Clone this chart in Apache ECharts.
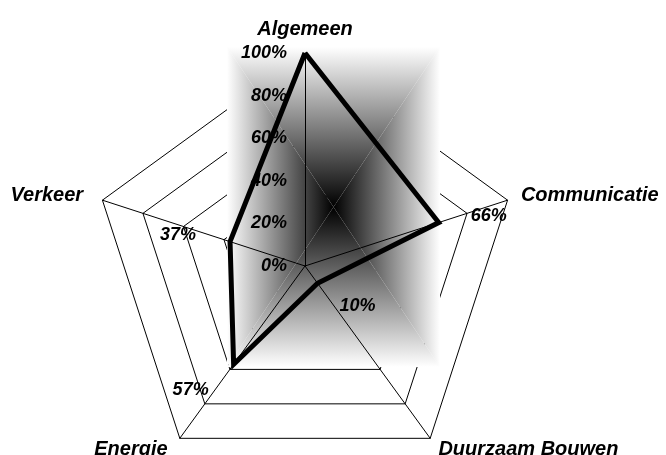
<!DOCTYPE html>
<html>
<head>
<meta charset="utf-8">
<script src="https://cdn.jsdelivr.net/npm/echarts@6/dist/echarts.min.js"></script>
<style>
  html, body { margin: 0; padding: 0; background: #fff; }
  #chart { width: 666px; height: 455px; }
</style>
</head>
<body>
<div id="chart"></div>
<script>
var categories = ['Algemeen', 'Communicatie', 'Duurzaam Bouwen', 'Energie', 'Verkeer'];
var values = [100, 66, 10, 57, 37];
var tickLabels = ['0%', '20%', '40%', '60%', '80%', '100%'];

// label offsets for the value labels (per axis, skip the top one: axis label covers it)
var labelOffsets = [null, [50, -7], [40, 23], [-43, 26], [-52, -7]];
// small nudges for the axis names
var namePadding = [0, [8, 0, 0, 0], 0, [0, 4, 0, 0], [8, 6, 0, 0]];

// echarts goes round counter-clockwise, the picture goes clockwise
var order = [0, 4, 3, 2, 1];
var radarValues = order.map(function (i) { return values[i]; });

var font = { fontFamily: 'Liberation Sans', fontWeight: 'bold', fontStyle: 'italic', color: '#000' };

var myChart = echarts.init(document.getElementById('chart'));

var cx = 305, cy = 266, r = 213;
// plot area fill box (rectangular "from center" gradient)
var L = 227, R = 440, T = 47, B = 367;
var mx = (L + R) / 2, my = (T + B) / 2;

function grad(x2, y2, dark0) {
  var a = dark0 ? '#000' : '#fff', b = dark0 ? '#fff' : '#000';
  return { type: 'linear', x: 0, y: 0, x2: x2, y2: y2, colorStops: [{ offset: 0, color: a }, { offset: 1, color: b }] };
}

var indicators0 = order.map(function (i) {
  var ind = { name: categories[i], min: 0, max: 100 };
  if (namePadding[i]) ind.nameTextStyle = { padding: namePadding[i] };
  return ind;
});
var indicators1 = order.map(function (i) {
  return { name: categories[i], min: 0, max: 100, axisLabel: { show: i === 0 } };
});

var labelSeries = [];
labelOffsets.forEach(function (off, k) {
  if (!off) return;
  labelSeries.push({
    type: 'radar',
    radarIndex: 1,
    z: 4,
    symbol: 'circle',
    symbolSize: 1,
    silent: true,
    itemStyle: { color: 'rgba(0,0,0,0)' },
    lineStyle: { width: 0, opacity: 0 },
    label: Object.assign({
      show: true,
      position: 'inside',
      offset: off,
      fontSize: 18,
      formatter: function (p) { return p.value === values[k] ? p.value + '%' : ''; }
    }, font),
    data: [{ value: radarValues }]
  });
});

option = {
  backgroundColor: '#fff',
  animation: false,
  graphic: {
    elements: [
      { type: 'polygon', z: 1, silent: true, shape: { points: [[L, T], [R, T], [mx, my]] }, style: { fill: grad(0, 1, false) } },
      { type: 'polygon', z: 1, silent: true, shape: { points: [[L, B], [R, B], [mx, my]] }, style: { fill: grad(0, 1, true) } },
      { type: 'polygon', z: 1, silent: true, shape: { points: [[L, T], [L, B], [mx, my]] }, style: { fill: grad(1, 0, false) } },
      { type: 'polygon', z: 1, silent: true, shape: { points: [[R, T], [R, B], [mx, my]] }, style: { fill: grad(1, 0, true) } }
    ]
  },
  radar: [
    {
      z: 0,
      center: [cx, cy],
      radius: r,
      startAngle: 90,
      splitNumber: 5,
      indicator: indicators0,
      nameGap: 14,
      axisName: Object.assign({ fontSize: 20 }, font),
      axisLine: { show: false },
      splitLine: { lineStyle: { color: '#000', width: 1 } },
      splitArea: { show: false },
      axisLabel: { show: false }
    },
    {
      z: 2,
      center: [cx, cy],
      radius: r,
      startAngle: 90,
      splitNumber: 5,
      indicator: indicators1,
      axisName: { show: false },
      axisLine: { lineStyle: { color: '#000', width: 1 } },
      splitLine: { show: false },
      splitArea: { show: false },
      axisLabel: Object.assign({
        show: true,
        fontSize: 18,
        margin: 18,
        formatter: function (v) { return tickLabels[Math.round(v / 20)]; }
      }, font)
    }
  ],
  series: [
    {
      type: 'radar',
      radarIndex: 1,
      z: 3,
      symbol: 'none',
      lineStyle: { color: '#000', width: 5, join: 'miter' },
      data: [{ value: radarValues }]
    }
  ].concat(labelSeries)
};
myChart.setOption(option);
</script>
</body>
</html>
